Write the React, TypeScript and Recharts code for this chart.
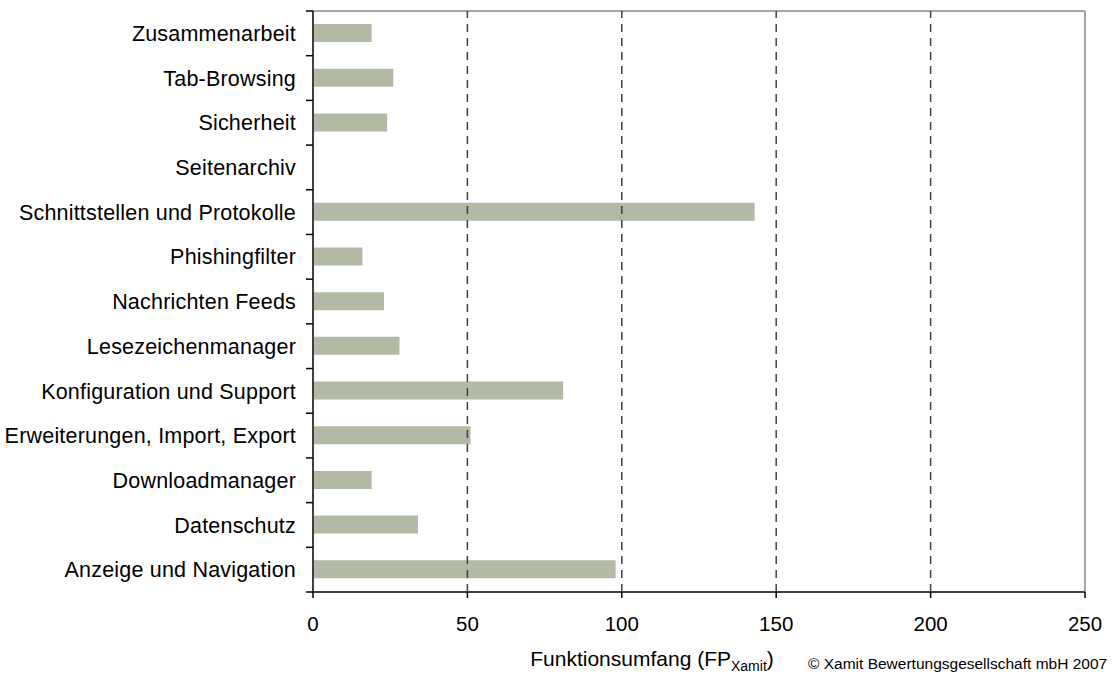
import React from 'react';
import {
  BarChart,
  Bar,
  XAxis,
  YAxis,
  CartesianGrid,
  ReferenceLine,
} from 'recharts';

const categories = [
  'Zusammenarbeit',
  'Tab-Browsing',
  'Sicherheit',
  'Seitenarchiv',
  'Schnittstellen und Protokolle',
  'Phishingfilter',
  'Nachrichten Feeds',
  'Lesezeichenmanager',
  'Konfiguration und Support',
  'Erweiterungen, Import, Export',
  'Downloadmanager',
  'Datenschutz',
  'Anzeige und Navigation',
];
const values = [19, 26, 24, 0, 143, 16, 23, 28, 81, 51, 19, 34, 98];
const xTicks = [0, 50, 100, 150, 200, 250];
const gridTicks = [50, 100, 150, 200];

const FONT = '"Liberation Sans", Arial, Helvetica, sans-serif';
const LABEL_GAP = 17;
const TICK_LEN = 7;

const data = categories.map((name, i) => ({ name, value: values[i] }));

// category label plus the little tick marks sitting on the row boundaries
const CategoryTick = (props: any) => {
  const { x, y, payload } = props;
  const axisX = x + LABEL_GAP;
  const half = payload.offset || 0;
  const isLast = payload.index === categories.length - 1;
  return (
    <g>
      <text
        x={x}
        y={y}
        dy="0.355em"
        textAnchor="end"
        fill="#000"
        fontFamily={FONT}
        fontSize={21.5}
        letterSpacing={0.2}
      >
        {payload.value}
      </text>
      <line x1={axisX - TICK_LEN} x2={axisX} y1={y - half} y2={y - half} stroke="#000" strokeWidth={1.5} />
      {isLast && (
        <line x1={axisX - TICK_LEN} x2={axisX} y1={y + half} y2={y + half} stroke="#000" strokeWidth={1.5} />
      )}
    </g>
  );
};

const AxisTitle = (props: any) => {
  const vb = props.viewBox || {};
  const cx = vb.x + vb.width / 2 - 47;
  const y = vb.y + 74;
  return (
    <text x={cx} y={y} textAnchor="middle" fontFamily={FONT} fontSize={21} fill="#000">
      <tspan>Funktionsumfang (FP</tspan>
      <tspan fontSize={14} dy={5}>Xamit</tspan>
      <tspan dy={-5}>)</tspan>
    </text>
  );
};

export default function App() {
  return (
    <div
      style={{
        position: 'absolute',
        left: 0,
        top: 0,
        width: 1115,
        height: 675,
        overflow: 'hidden',
        background: '#fff',
        fontFamily: FONT,
      }}
    >
      <BarChart
        width={1115}
        height={675}
        data={data}
        layout="vertical"
        margin={{ top: 11, right: 30, bottom: 0, left: 0 }}
      >
        {/* top edge of the plot frame */}
        <CartesianGrid
          vertical={false}
          horizontalCoordinatesGenerator={({ offset }: any) => [offset.top]}
          stroke="#a6a6a6"
          strokeWidth={2}
        />
        {gridTicks.map((t) => (
          <ReferenceLine
            key={t}
            x={t}
            stroke="#404040"
            strokeWidth={1.5}
            strokeDasharray="8 6"
          />
        ))}
        <ReferenceLine x={250} stroke="#a6a6a6" strokeWidth={2} />
        <YAxis
          type="category"
          dataKey="name"
          width={313}
          tickSize={0}
          tickMargin={LABEL_GAP}
          tickLine={false}
          axisLine={{ stroke: '#404040', strokeWidth: 2 }}
          interval={0}
          tick={<CategoryTick />}
        />
        <XAxis
          type="number"
          domain={[0, 250]}
          ticks={xTicks}
          height={83}
          tickSize={6}
          tickMargin={18}
          tick={{ fill: '#000', fontSize: 20.5, fontFamily: FONT }}
          tickLine={{ stroke: '#000', strokeWidth: 1.5 }}
          axisLine={{ stroke: '#404040', strokeWidth: 2 }}
          label={<AxisTitle />}
        />
        <Bar
          dataKey="value"
          fill="#b2b9a5"
          barSize={18}
          isAnimationActive={false}
        />
      </BarChart>
      <div
        style={{
          position: 'absolute',
          left: 808,
          top: 655,
          fontSize: 15.5,
          lineHeight: '18px',
          color: '#000',
          whiteSpace: 'nowrap',
        }}
      >
        © Xamit Bewertungsgesellschaft mbH 2007
      </div>
    </div>
  );
}
